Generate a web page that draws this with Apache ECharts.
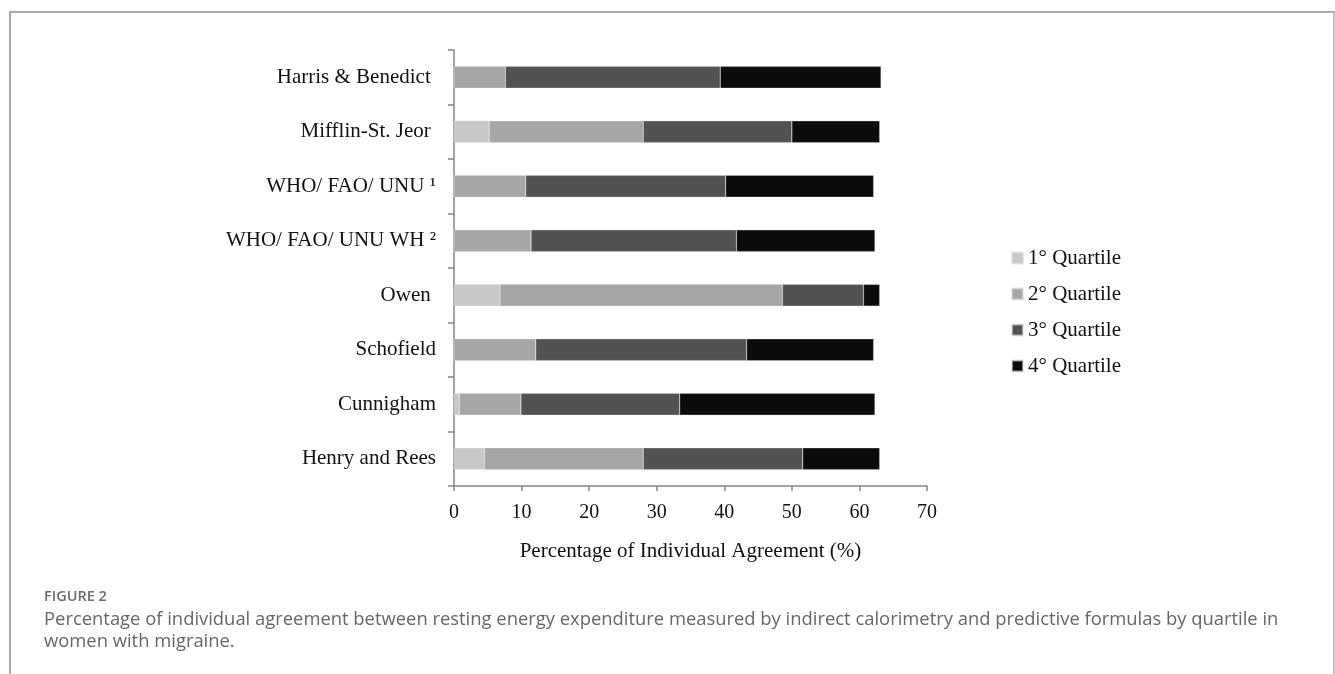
<!DOCTYPE html>
<html>
<head>
<meta charset="utf-8">
<script src="https://cdn.jsdelivr.net/npm/echarts@6/dist/echarts.min.js"></script>
<style>
html,body{margin:0;padding:0;background:#fff;}
#frame{position:absolute;left:9px;top:11px;width:1322px;height:680px;border-left:2px solid #aaa;border-top:2px solid #aaa;border-right:2px solid #c4c4c4;}
#chart{position:absolute;left:0;top:0;width:1335px;height:674px;}
</style>
</head>
<body>
<div id="frame"></div>
<div id="chart"></div>
<script>
const categories = ['Harris & Benedict ', 'Mifflin-St. Jeor ', 'WHO/ FAO/ UNU \u00b9', 'WHO/ FAO/ UNU WH \u00b2', 'Owen ', 'Schofield', 'Cunnigham', 'Henry and Rees'];
const seriesNames = ['1\u00b0 Quartile', '2\u00b0 Quartile', '3\u00b0 Quartile', '4\u00b0 Quartile'];
const q1 = [0, 5.2, 0, 0, 6.8, 0, 0.8, 4.5];
const q2 = [7.6, 22.8, 10.6, 11.4, 41.8, 12.1, 9.1, 23.5];
const q3 = [31.8, 22.0, 29.6, 30.4, 12.0, 31.2, 23.5, 23.6];
const q4 = [23.8, 13.0, 21.9, 20.5, 2.4, 18.8, 28.9, 11.4];
const xTicks = [0, 10, 20, 30, 40, 50, 60, 70];
const colors = ['#c8c8c8', '#a6a6a6', '#525252', '#0b0b0b'];

const chart = echarts.init(document.getElementById('chart'), null, {renderer: 'canvas'});
const serif = 'Liberation Serif';
const seriesData = [q1, q2, q3, q4];
const option = {
  animation: false,
  grid: {left: 454, right: 408, top: 50, bottom: 188, containLabel: false},
  legend: {
    orient: 'vertical', left: 1006, top: 242.5,
    icon: 'rect', itemWidth: 11, itemHeight: 11, itemGap: 15,
    textStyle: {fontFamily: serif, fontSize: 21, color: '#111', lineHeight: 21},
    data: seriesNames
  },
  xAxis: {
    type: 'value', min: xTicks[0], max: xTicks[xTicks.length - 1], interval: 10,
    name: 'Percentage of Individual Agreement (%)', nameLocation: 'middle', nameGap: 55,
    nameTextStyle: {fontFamily: serif, fontSize: 21, color: '#111'},
    axisLine: {show: true, lineStyle: {color: '#858585', width: 1.5}},
    axisTick: {show: true, length: 5, lineStyle: {color: '#858585', width: 1.5}},
    splitLine: {show: false},
    axisLabel: {fontFamily: serif, fontSize: 20, color: '#111', margin: 17}
  },
  yAxis: {
    type: 'category', inverse: true, data: categories,
    axisLine: {show: true, lineStyle: {color: '#858585', width: 1.5}},
    axisTick: {show: true, length: 6, inside: false, lineStyle: {color: '#858585', width: 1.5}},
    axisLabel: {fontFamily: serif, fontSize: 21, color: '#111', margin: 18}
  },
  series: seriesNames.map((n, i) => ({
    name: n, type: 'bar', stack: 'total', data: seriesData[i],
    barCategoryGap: '60%',
    itemStyle: {color: colors[i], borderColor: 'rgba(220,220,220,0.6)', borderWidth: 0.5}
  })),
  graphic: [
    {type: 'text', left: 44, top: 589, style: {text: 'FIGURE 2', font: '600 14.5px "Open Sans"', fill: '#6b6b6b'}},
    {type: 'text', left: 44, top: 609, style: {text: 'Percentage of individual agreement between resting energy expenditure measured by indirect calorimetry and predictive formulas by quartile in\nwomen with migraine.', font: '18.4px "Open Sans"', fill: '#666', lineHeight: 22}}
  ]
};
chart.setOption(option);
</script>
</body>
</html>
